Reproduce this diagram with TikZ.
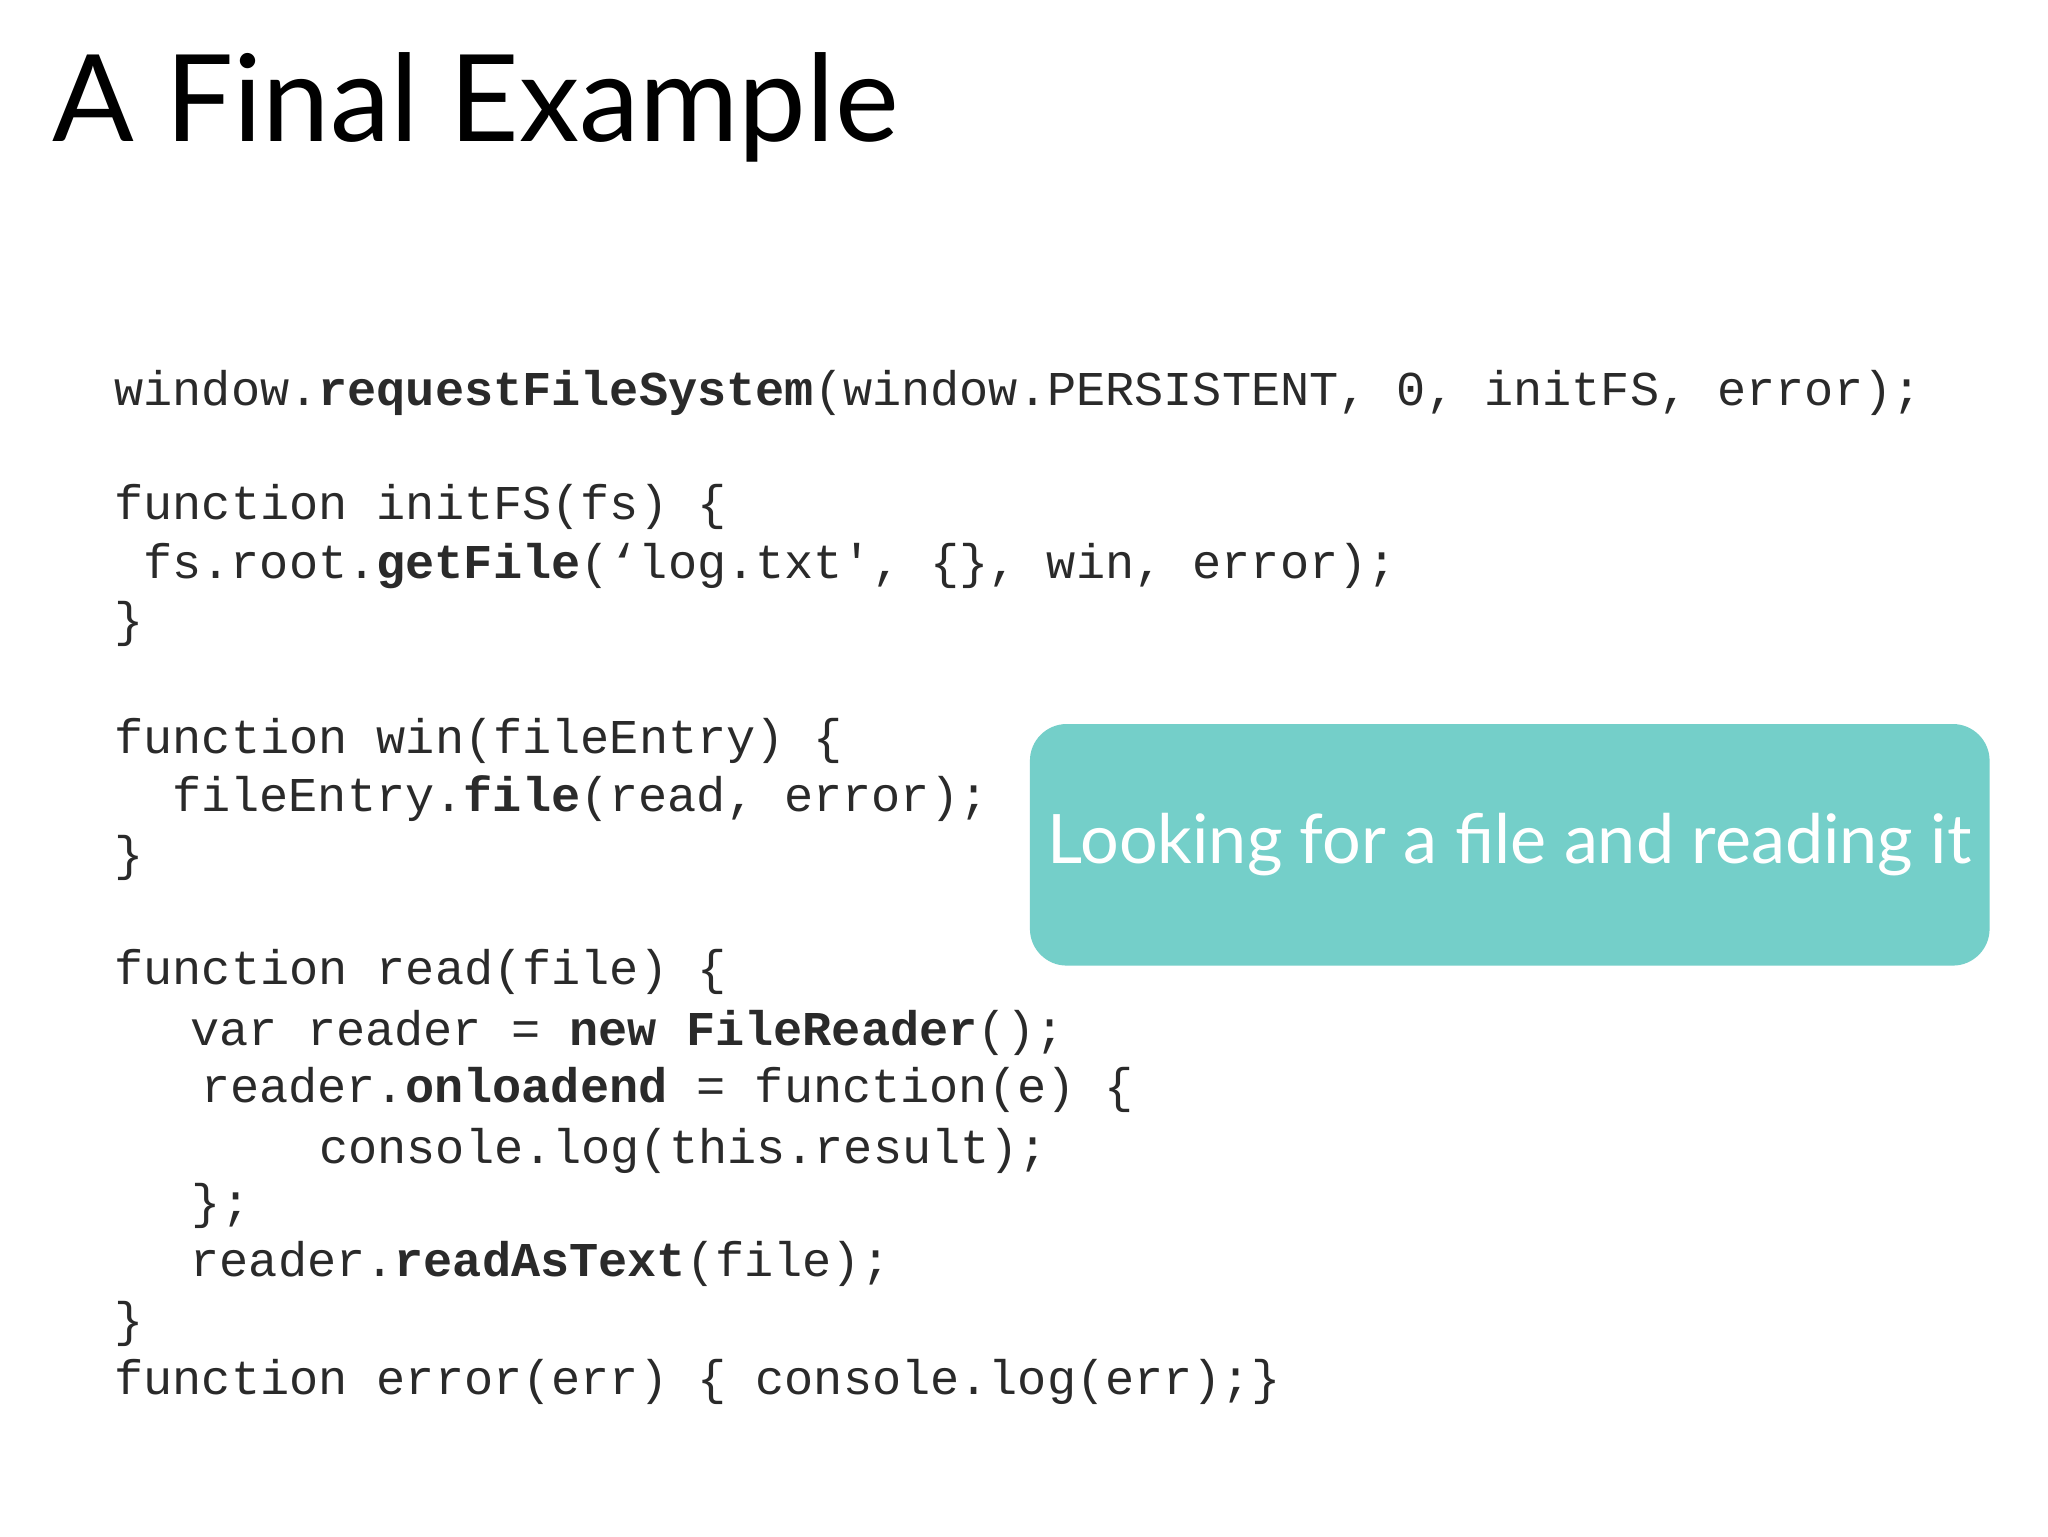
\documentclass[tikz,border=0pt]{standalone}
\usepackage{fontspec}
\setmainfont{Lato}
\setmonofont{Liberation Mono}
\definecolor{teal}{HTML}{74CFC9}
\definecolor{ink}{HTML}{2A2A2A}
\begin{document}
\begin{tikzpicture}[x=1pt,y=-1pt,
  code/.style={anchor=base west,inner sep=0,font=\fontsize{37}{40}\selectfont\ttfamily,text=ink}]
\useasboundingbox (0,0) rectangle (1560,1170);
\fill[white] (0,0) rectangle (1560,1170);
\node[anchor=base west,inner sep=0,font=\fontsize{92}{100}\selectfont,text=black] (title) at (40,108) {A Final Example};
\node[code] (l1) at (87,309) {window.\textbf{requestFileSystem}(window.PERSISTENT, 0, initFS, error);};
\node[code] (l2) at (87,396) {function initFS(fs) \{};
\node[code] (l3) at (109,441) {fs.root.\textbf{getFile}(‘log.txt', \{\}, win, error);};
\node[code] (l4) at (87,485) {\}};
\node[code] (l5) at (87,574) {function win(fileEntry) \{};
\node[code] (l6) at (131,618) {fileEntry.\textbf{file}(read, error);};
\node[code] (l7) at (87,663) {\}};
\node[code] (l8) at (87,750) {function read(file) \{};
\node[code] (l9) at (145,796) {var reader = \textbf{new FileReader}();};
\node[code] (l10) at (153,840) {reader.\textbf{onloadend} = function(e) \{};
\node[code] (l11) at (243,886) {console.log(this.result);};
\node[code] (l12) at (146,928) {\};};
\node[code] (l13) at (145,972) {reader.\textbf{readAsText}(file);};
\node[code] (l14) at (87,1018) {\}};
\node[code] (l15) at (87,1062) {function error(err) \{ console.log(err);\}};
\node[fill=teal,rounded corners=28pt,minimum width=731pt,minimum height=184pt,
  text=white,font=\fontsize{52}{56}\selectfont] (box) at (1150,643.5) {Looking for a file and reading it};
\end{tikzpicture}
\end{document}
